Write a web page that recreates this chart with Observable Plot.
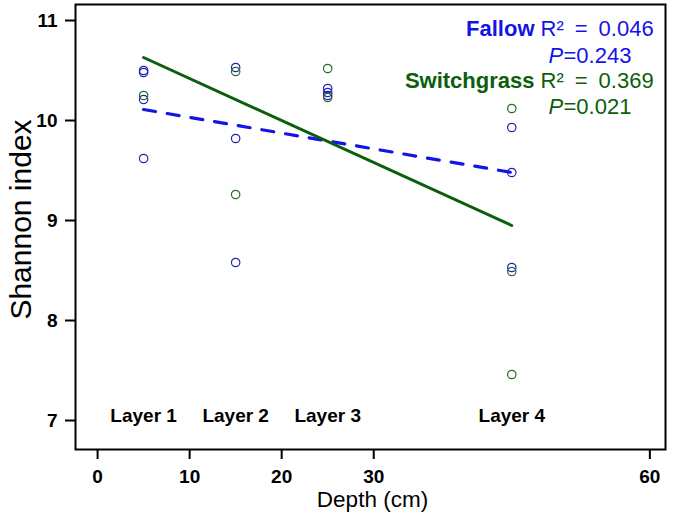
<!DOCTYPE html>
<html><head><meta charset="utf-8">
<script src="https://cdn.jsdelivr.net/npm/d3@7"></script>
<script src="https://cdn.jsdelivr.net/npm/@observablehq/plot@0.6"></script>
<style>body{margin:0;background:#fff}</style>
</head><body><div id="chart"></div>
<script>
// ---- data ----
const layerDepths = [5, 15, 25, 45];
const layerLabels = ["Layer 1", "Layer 2", "Layer 3", "Layer 4"];
const xTicks = [0, 10, 20, 30, 60];
const yTicks = [7, 8, 9, 10, 11];
const fallowDepth   = [5, 5, 5, 5, 15, 15, 15, 25, 25, 25, 45, 45, 45];
const fallowShannon = [10.50, 10.48, 10.21, 9.62, 10.53, 9.82, 8.58, 10.32, 10.28, 10.25, 9.93, 9.48, 8.53];
const switchDepth   = [5, 15, 15, 25, 25, 45, 45, 45];
const switchShannon = [10.25, 10.49, 9.26, 10.52, 10.23, 10.12, 8.49, 7.46];
const fitDepth  = [5, 45];
const fallowFit = [10.11, 9.48];
const switchFit = [10.63, 8.95];
const seriesNames = ["Fallow", "Switchgrass"];
const r2Labels = ["R²\u2002=\u20020.046", "R²\u2002=\u20020.369"];
const pLabels = ["=0.243", "=0.021"];

const BLUE = "#1414e6", BLUEPT = "#2424b4", GREEN = "#0b5e0b", GREENPT = "#2a6a2a";
const font = "'Liberation Sans', Arial, Helvetica, sans-serif";

const fallow = fallowDepth.map((d, i) => ({depth: d, shannon: fallowShannon[i]}));
const switchg = switchDepth.map((d, i) => ({depth: d, shannon: switchShannon[i]}));
const fFit = fitDepth.map((d, i) => ({depth: d, shannon: fallowFit[i]}));
const sFit = fitDepth.map((d, i) => ({depth: d, shannon: switchFit[i]}));
const layers = layerDepths.map((d, i) => ({depth: d, label: layerLabels[i]}));

const colors = [BLUE, GREEN];
const nameDy = [24, 76];
const pDy = [51, 102];

const legendMarks = [];
seriesNames.forEach((name, i) => {
  legendMarks.push(Plot.text([name], {frameAnchor: "top-left", dx: 459, dy: nameDy[i], textAnchor: "end", lineAnchor: "middle", fontSize: 22, fontWeight: "bold", fill: colors[i]}));
  legendMarks.push(Plot.text([r2Labels[i]], {frameAnchor: "top-left", dx: 465, dy: nameDy[i], textAnchor: "start", lineAnchor: "middle", fontSize: 22, fill: colors[i]}));
  legendMarks.push(Plot.text(["P"], {frameAnchor: "top-left", dx: 473, dy: pDy[i], textAnchor: "start", lineAnchor: "middle", fontSize: 22, fontStyle: "italic", fill: colors[i]}));
  legendMarks.push(Plot.text([pLabels[i]], {frameAnchor: "top-left", dx: 488, dy: pDy[i], textAnchor: "start", lineAnchor: "middle", fontSize: 22, fill: colors[i]}));
});

const plot = Plot.plot({
  width: 675, height: 518,
  marginLeft: 75, marginRight: 10, marginTop: 4, marginBottom: 69,
  x: {domain: [-2.4, 61.7]},
  y: {domain: [6.71, 11.16]},
  style: {fontFamily: font, background: "white", color: "black"},
  marks: [
    Plot.axisX({ticks: xTicks, tickSize: 10, tickPadding: 10, fontSize: 19, fontWeight: "bold", label: null, strokeWidth: 2}),
    Plot.axisY({ticks: yTicks, tickFormat: "d", tickSize: 10, tickPadding: 8, fontSize: 19, fontWeight: "bold", label: null, strokeWidth: 2}),
    Plot.frame({stroke: "black", strokeWidth: 2}),
    Plot.dot(fallow, {x: "depth", y: "shannon", r: 4.2, stroke: BLUEPT, strokeWidth: 1.2}),
    Plot.dot(switchg, {x: "depth", y: "shannon", r: 4.2, stroke: GREENPT, strokeWidth: 1.2}),
    Plot.line(fFit, {x: "depth", y: "shannon", stroke: BLUE, strokeWidth: 3.2, strokeDasharray: "12,12"}),
    Plot.line(sFit, {x: "depth", y: "shannon", stroke: GREEN, strokeWidth: 3}),
    Plot.text(layers, {x: "depth", text: "label", frameAnchor: "bottom", dy: -34, lineAnchor: "middle", fontSize: 19, fontWeight: "bold"}),
    Plot.text(["Depth (cm)"], {frameAnchor: "bottom", dx: 2, dy: 50, lineAnchor: "middle", fontSize: 22.5}),
    Plot.text(["Shannon index"], {frameAnchor: "top-left", dx: -54, dy: 215, rotate: -90, textAnchor: "middle", lineAnchor: "middle", fontSize: 30}),
    ...legendMarks
  ]
});
document.getElementById("chart").appendChild(plot);
</script>
</body></html>
